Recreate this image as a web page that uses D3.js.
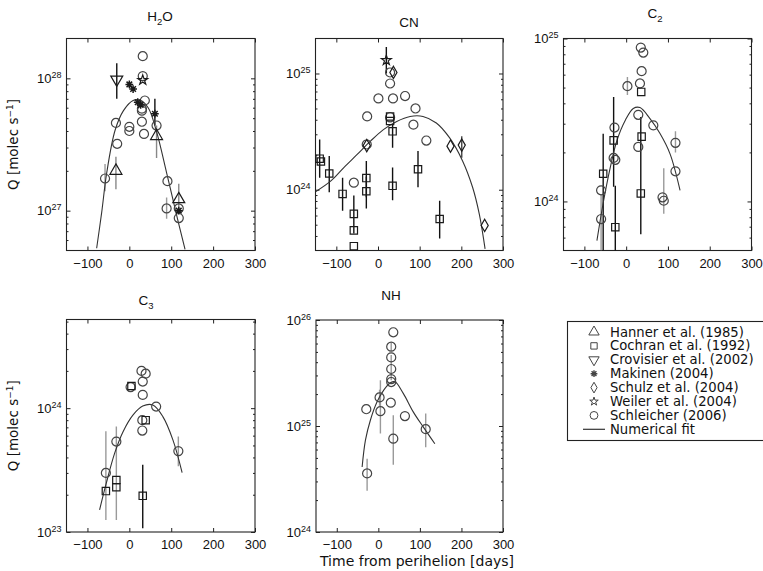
<!DOCTYPE html>
<html>
<head>
<meta charset="utf-8">
<script src="https://cdn.jsdelivr.net/npm/d3@7"></script>
<style>
  body { margin: 0; background: #fff; }
  svg { font-family: "Liberation Sans", Arial, Helvetica, sans-serif; }
</style>
</head>
<body>
<svg id="chart" width="763" height="571"></svg>
<script>
// ---------------------------------------------------------------
// Production rates Q [molec s^-1] vs. time from perihelion [days]
// Each point: [t, Q, errLow, errHigh]  (null = no error bar)
// ---------------------------------------------------------------
const xTicks = [-100, 0, 100, 200, 300];
const xDomain = [-150, 300];

const legendLabels = [
  "Hanner et al. (1985)", "Cochran et al. (1992)", "Crovisier et al. (2002)",
  "Makinen (2004)", "Schulz et al. (2004)", "Weiler et al. (2004)",
  "Schleicher (2006)", "Numerical fit"
];

// ---- H2O ----
const h2oHanner = [[-32, 2.0e27, 1.45e27, 2.55e27], [65, 3.66e27, 2.5e27, 4.4e27], [118, 1.22e27, 9.5e26, 1.6e27]];
const h2oCrovisier = [[-30, 9.8e27, 7.0e27, 1.3e28]];
const h2oMakinen = [[0, 9.0e27, null, null], [9, 8.3e27, null, null], [20, 6.6e27, null, null], [27, 6.3e27, null, null], [61, 5.4e27, 4.4e27, 7.0e27], [118, 1.0e27, null, null]];
const h2oWeiler = [[32, 9.7e27, null, null]];
const h2oSchleicher = [
  [-58, 1.75e27, 1.4e27, 2.25e27], [-29, 3.2e27, null, null], [-32, 4.6e27, null, null],
  [0, 4.3e27, null, null], [0, 4.0e27, null, null], [32, 1.47e28, null, null],
  [32, 1.04e28, null, null], [37, 6.8e27, null, null], [30, 5.9e27, null, null],
  [30, 5.7e27, null, null], [30, 4.7e27, null, null], [35, 3.8e27, null, null],
  [65, 4.4e27, null, null], [91, 1.67e27, null, null], [89, 1.04e27, 8.7e26, 1.26e27],
  [118, 1.04e27, null, null], [118, 8.8e26, null, null]
];
const h2oFit = [
  [-78, 5.2e26], [-66, 9.7e26], [-54, 1.93e27], [-34, 4.05e27], [-14, 5.7e27],
  [9, 6.8e27], [25, 6.85e27], [45, 6.0e27], [65, 3.95e27], [89, 1.93e27],
  [113, 9.2e26], [133, 5.1e26]
];

// ---- CN ----
const cnCochran = [
  [-140, 1.85e24, 1.27e24, 2.7e24], [-137, 1.75e24, null, null], [-117, 1.38e24, 9.5e23, 1.95e24],
  [-85, 9.2e23, 6.6e23, 1.27e24], [-58, 6.2e23, 4.2e23, 8.9e23], [-58, 4.47e23, null, null],
  [-58, 3.27e23, null, null], [-28, 1.26e24, 8.6e23, 1.77e24], [-28, 9.7e23, 6.9e23, 1.3e24],
  [35, 1.08e24, 8.1e23, 1.55e24], [35, 3.18e24, 2.3e24, 3.63e24], [29, 4.27e24, null, null],
  [29, 3.9e24, null, null], [96, 1.5e24, 1.05e24, 2.15e24], [148, 5.6e23, 3.8e23, 8.05e23]
];
const cnSchulz = [[-27, 2.4e24, null, null], [37, 1.02e25, null, null], [174, 2.37e24, null, null], [201, 2.42e24, 1.88e24, 2.88e24], [256, 4.93e23, null, null]];
const cnWeiler = [[20, 1.3e25, 1.0e25, 1.69e25]];
const cnSchleicher = [
  [-58, 1.15e24, null, null], [-27, 2.45e24, null, null], [-26, 4.27e24, null, null],
  [1, 6.1e24, null, null], [29, 8.2e24, null, null], [29, 1.02e25, null, null],
  [36, 6.1e24, null, null], [65, 6.4e24, null, null], [29, 4.2e24, null, null],
  [90, 5.0e24, null, null], [85, 3.63e24, null, null], [116, 2.65e24, null, null]
];
const cnFit = [
  [-150, 9.6e23], [-113, 1.19e24], [-82, 1.55e24], [-50, 2.01e24], [-18, 2.62e24],
  [13, 3.29e24], [45, 3.87e24], [77, 4.27e24], [108, 4.27e24], [140, 3.75e24],
  [172, 2.79e24], [203, 1.77e24], [227, 1.05e24], [243, 6.2e23], [257, 3.1e23]
];

// ---- C2 ----
const c2Cochran = [
  [-55, 1.48e24, 5.0e23, 2.6e24], [-30, 2.37e24, 1.23e24, 4.37e24], [-26, 6.95e23, 4.5e23, 1.25e24],
  [35, 1.12e24, 6.3e23, 3.3e24], [36, 4.7e24, null, null], [37, 2.5e24, null, null]
];
const c2Schleicher = [
  [35, 8.8e24, null, null], [41, 8.2e24, null, null], [37, 6.3e24, null, null],
  [3, 5.1e24, 4.5e24, 5.8e24], [33, 5.3e24, null, null], [29, 3.4e24, null, null],
  [65, 2.93e24, null, null], [-28, 2.84e24, null, null], [-30, 1.85e24, null, null],
  [-26, 1.8e24, null, null], [29, 2.16e24, null, null], [118, 2.29e24, 2.0e24, 2.7e24],
  [118, 1.53e24, null, null], [-60, 1.17e24, null, null], [-60, 7.8e23, 5.0e23, 1.1e24],
  [87, 1.06e24, null, null], [90, 1.01e24, 8.4e23, 1.6e24]
];
const c2Fit = [
  [-70, 5.75e23], [-54, 1.01e24], [-38, 1.62e24], [-22, 2.37e24], [-2, 3.15e24],
  [17, 3.72e24], [33, 3.77e24], [57, 3.22e24], [81, 2.61e24], [105, 1.96e24], [129, 1.17e24]
];

// ---- C3 ----
const c3Cochran = [
  [5, 1.51e24, null, null], [-56, 2.14e23, null, null], [-31, 2.63e23, null, null],
  [-31, 2.3e23, null, null], [32, 1.96e23, 1.07e23, 3.5e23], [39, 8.0e23, null, null]
];
const c3Schleicher = [
  [29, 2.0e24, null, null], [39, 1.9e24, null, null], [32, 1.64e24, null, null],
  [3, 1.48e24, null, null], [32, 1.28e24, null, null], [64, 1.03e24, null, null],
  [31, 8.0e23, null, null], [31, 6.6e23, null, null], [-31, 5.37e23, 1.25e23, 7.1e23],
  [117, 4.5e23, 3.4e23, 5.9e23], [-56, 3.0e23, 1.25e23, 6.5e23]
];
const c3Fit = [
  [-71, 1.51e23], [-55, 2.48e23], [-35, 4.33e23], [-15, 6.46e23], [9, 8.83e23],
  [32, 1.04e24], [56, 1.06e24], [80, 8.55e23], [104, 5.55e23], [126, 3.02e23]
];

// ---- NH ----
const nhSchleicher = [
  [36, 7.66e25, null, null], [31, 5.6e25, 5.1e25, 6.1e25], [31, 4.44e25, null, null],
  [31, 3.45e25, null, null], [31, 2.77e25, 2.7e25, 4.67e25], [31, 2.6e25, null, null],
  [3, 1.86e25, 1.55e25, 2.2e25], [30, 1.66e25, null, null], [-29, 1.44e25, null, null],
  [5, 1.38e25, 8.5e24, 2.7e25], [64, 1.24e25, null, null], [36, 7.6e24, 4.3e24, 1.26e25],
  [114, 9.34e24, 6.3e24, 1.31e25], [-27, 3.57e24, 2.45e24, 4.9e24]
];
const nhFit = [
  [-39, 4.1e24], [-31, 7.35e24], [-19, 1.14e25], [-3, 1.69e25], [13, 2.18e25],
  [29, 2.56e25], [40, 2.61e25], [60, 2.03e25], [84, 1.36e25], [108, 9.8e24], [136, 6.8e24]
];

// ---------------------------------------------------------------
// Marker and colour definitions for each source
// ---------------------------------------------------------------
const asteriskSymbol = {
  draw(ctx, size) {
    const r = Math.sqrt(size) / 2, d = r * 0.72;
    ctx.moveTo(-r, 0); ctx.lineTo(r, 0);
    ctx.moveTo(0, -r); ctx.lineTo(0, r);
    ctx.moveTo(-d, -d); ctx.lineTo(d, d);
    ctx.moveTo(-d, d); ctx.lineTo(d, -d);
  }
};
const styles = {
  hanner:     { type: d3.symbolTriangle, size: 62, rot: 0,   err: "#888" },
  cochran:    { type: d3.symbolSquare,   size: 54, rot: 0,   err: "#111" },
  crovisier:  { type: d3.symbolTriangle, size: 62, rot: 180, err: "#111" },
  makinen:    { type: asteriskSymbol,    size: 60, rot: 0,   err: "#111" },
  schulz:     { type: d3.symbolDiamond,  size: 44, rot: 0,   err: "#444" },
  weiler:     { type: d3.symbolStar,     size: 30, rot: 0,   err: "#111" },
  schleicher: { type: d3.symbolCircle,   size: 64, rot: 0,   err: "#9a9a9a" }
};
const legendKeys = ["hanner", "cochran", "crovisier", "makinen", "schulz", "weiler", "schleicher"];

// ---------------------------------------------------------------
// Panels
// ---------------------------------------------------------------
const panels = [
  { id: "h2o", title: ["H", "2", "O"], box: [66.5, 255, 38.5, 250.5], yDomain: [5e26, 2e28],
    titlePos: [160, 21], ylabel: true,
    sets: [["schleicher", h2oSchleicher], ["hanner", h2oHanner], ["crovisier", h2oCrovisier],
           ["makinen", h2oMakinen], ["weiler", h2oWeiler]], fit: h2oFit },
  { id: "cn", title: ["CN"], box: [315.5, 503, 38.5, 250.5], yDomain: [3e23, 2e25],
    titlePos: [409, 27],
    sets: [["schleicher", cnSchleicher], ["cochran", cnCochran], ["schulz", cnSchulz],
           ["weiler", cnWeiler]], fit: cnFit },
  { id: "c2", title: ["C", "2"], box: [563.5, 751.5, 38.5, 250.5], yDomain: [5e23, 1e25],
    titlePos: [655, 18],
    sets: [["schleicher", c2Schleicher], ["cochran", c2Cochran]], fit: c2Fit },
  { id: "c3", title: ["C", "3"], box: [66.5, 255, 319.5, 532], yDomain: [1e23, 5.2e24],
    titlePos: [146, 305], ylabel: true,
    sets: [["schleicher", c3Schleicher], ["cochran", c3Cochran]], fit: c3Fit },
  { id: "nh", title: ["NH"], box: [316, 503, 320, 532], yDomain: [1e24, 1e26],
    titlePos: [391, 300], xlabel: true,
    sets: [["schleicher", nhSchleicher]], fit: nhFit }
];

const svg = d3.select("#chart");
const defs = svg.append("defs");
const frameColor = "#222";
const wideFont = "DejaVu Sans, Verdana, sans-serif";

function supLabel(sel, base, exp) {
  sel.text(null);
  sel.append("tspan").text(base);
  sel.append("tspan").attr("dy", -5).attr("font-size", 9).text(exp);
}

panels.forEach(p => {
  const [x0, x1, y0, y1] = p.box;
  const x = d3.scaleLinear().domain(xDomain).range([x0, x1]);
  const y = d3.scaleLog().domain(p.yDomain).range([y1, y0]);
  const g = svg.append("g").attr("class", "panel-" + p.id);

  defs.append("clipPath").attr("id", "clip-" + p.id)
    .append("rect").attr("x", x0).attr("y", y0).attr("width", x1 - x0).attr("height", y1 - y0);

  // decade ticks & minor ticks
  const [lo, hi] = p.yDomain;
  const decades = d3.range(Math.ceil(Math.log10(lo) - 1e-9), Math.floor(Math.log10(hi) + 1e-9) + 1);
  const majors = decades.map(e => Math.pow(10, e));
  const minors = [];
  for (let e = Math.floor(Math.log10(lo)); e <= Math.ceil(Math.log10(hi)); e++) {
    for (let m = 2; m <= 9; m++) {
      const v = m * Math.pow(10, e);
      if (v > lo * 1.0001 && v < hi * 0.9999) minors.push(v);
    }
  }

  // bottom axis with labels
  const xb = g.append("g").attr("transform", `translate(0,${y1})`)
    .call(d3.axisBottom(x).tickValues(xTicks).tickSizeInner(-4).tickSizeOuter(0).tickPadding(8)
      .tickFormat(d => d < 0 ? "\u2212" + Math.abs(d) : String(d)));
  // top axis (ticks only)
  g.append("g").attr("transform", `translate(0,${y0})`)
    .call(d3.axisTop(x).tickValues(xTicks).tickSizeInner(-4).tickSizeOuter(0).tickFormat(""));
  // left axis
  const yl = g.append("g").attr("transform", `translate(${x0},0)`)
    .call(d3.axisLeft(y).tickValues(majors).tickSizeInner(-4).tickSizeOuter(0).tickPadding(5)
      .tickFormat(d => "10^" + Math.round(Math.log10(d))));
  g.append("g").attr("transform", `translate(${x0},0)`)
    .call(d3.axisLeft(y).tickValues(minors).tickSizeInner(-2).tickSizeOuter(0).tickFormat(""));
  // right axis
  g.append("g").attr("transform", `translate(${x1},0)`)
    .call(d3.axisRight(y).tickValues(majors).tickSizeInner(-4).tickSizeOuter(0).tickFormat(""));
  g.append("g").attr("transform", `translate(${x1},0)`)
    .call(d3.axisRight(y).tickValues(minors).tickSizeInner(-2).tickSizeOuter(0).tickFormat(""));

  g.selectAll(".domain").remove();
  g.selectAll(".tick line").attr("stroke", frameColor).attr("stroke-width", 1);
  xb.selectAll(".tick text").attr("font-size", 13).attr("fill", "#111")
    .attr("font-family", "Liberation Sans, Arial, sans-serif");
  yl.selectAll(".tick text").each(function(d) {
    const t = d3.select(this);
    t.attr("font-size", 13).attr("fill", "#111").attr("dy", "0.32em")
      .attr("font-family", "Liberation Sans, Arial, sans-serif");
    supLabel(t, "10", String(Math.round(Math.log10(d))));
  });

  // frame
  g.append("rect").attr("x", x0).attr("y", y0).attr("width", x1 - x0).attr("height", y1 - y0)
    .attr("fill", "none").attr("stroke", frameColor).attr("stroke-width", 1.1);

  // title
  const tt = g.append("text").attr("x", p.titlePos[0]).attr("y", p.titlePos[1])
    .attr("text-anchor", "middle").attr("font-size", 13.5).attr("fill", "#111");
  tt.append("tspan").text(p.title[0]);
  if (p.title.length > 1) {
    tt.append("tspan").attr("dy", 4).attr("font-size", 9.5).text(p.title[1]);
    if (p.title[2]) tt.append("tspan").attr("dy", -4).text(p.title[2]);
  }

  // error bars (clipped to the axes)
  const eg = g.append("g").attr("clip-path", `url(#clip-${p.id})`);
  p.sets.forEach(([key, data]) => {
    eg.selectAll(null).data(data.filter(d => d[2] != null)).join("line")
      .attr("x1", d => x(d[0])).attr("x2", d => x(d[0]))
      .attr("y1", d => y(d[2])).attr("y2", d => y(d[3]))
      .attr("stroke", styles[key].err).attr("stroke-width", 1.4);
  });

  // numerical fit
  g.append("path").datum(p.fit).attr("clip-path", `url(#clip-${p.id})`)
    .attr("d", d3.line().x(d => x(d[0])).y(d => y(d[1])).curve(d3.curveCatmullRom.alpha(0.5)))
    .attr("fill", "none").attr("stroke", "#333").attr("stroke-width", 1.1);

  // markers
  p.sets.forEach(([key, data]) => {
    const st = styles[key];
    const sym = d3.symbol().type(st.type).size(st.size);
    g.selectAll(null).data(data).join("path")
      .attr("d", sym)
      .attr("transform", d => `translate(${x(d[0])},${y(d[1])}) rotate(${st.rot})`)
      .attr("fill", "none")
      .attr("stroke", key === "schleicher" ? "#444" : "#1a1a1a")
      .attr("stroke-width", key === "makinen" ? 1.5 : 1.2);
  });

  if (p.ylabel) {
    const cy = (y0 + y1) / 2;
    const yt = g.append("text").attr("transform", `translate(18,${cy}) rotate(-90)`)
      .attr("text-anchor", "middle").attr("font-size", 13.5).attr("fill", "#111")
      .attr("font-family", wideFont);
    yt.append("tspan").text("Q [molec s");
    yt.append("tspan").attr("dy", -5).attr("font-size", 9).text("\u22121");
    yt.append("tspan").attr("dy", 5).text("]");
  }
  if (p.xlabel) {
    g.append("text").attr("x", 417).attr("y", 566)
      .attr("text-anchor", "middle").attr("font-size", 14).attr("fill", "#111")
      .attr("font-family", wideFont)
      .text("Time from perihelion [days]");
  }
});

// ---------------------------------------------------------------
// Legend
// ---------------------------------------------------------------
const lg = svg.append("g").attr("class", "legend");
lg.append("rect").attr("x", 567.5).attr("y", 321.5).attr("width", 198).attr("height", 119)
  .attr("fill", "#fff").attr("stroke", frameColor).attr("stroke-width", 1.1);
const rowY = i => 332 + i * 13.9;
legendKeys.forEach((key, i) => {
  const st = styles[key];
  lg.append("path").attr("d", d3.symbol().type(st.type).size(st.size * 0.75))
    .attr("transform", `translate(594,${rowY(i)}) rotate(${st.rot})`)
    .attr("fill", "none").attr("stroke", "#444").attr("stroke-width", key === "makinen" ? 1.4 : 1);
});
lg.append("line").attr("x1", 583).attr("x2", 605).attr("y1", rowY(7)).attr("y2", rowY(7))
  .attr("stroke", "#333").attr("stroke-width", 1.2);
lg.selectAll("text.lab").data(legendLabels).join("text").attr("class", "lab")
  .attr("x", 610).attr("y", (d, i) => rowY(i) + 4.5)
  .attr("font-size", 13.2).attr("fill", "#111").attr("font-family", wideFont)
  .text(d => d);
</script>
</body>
</html>
